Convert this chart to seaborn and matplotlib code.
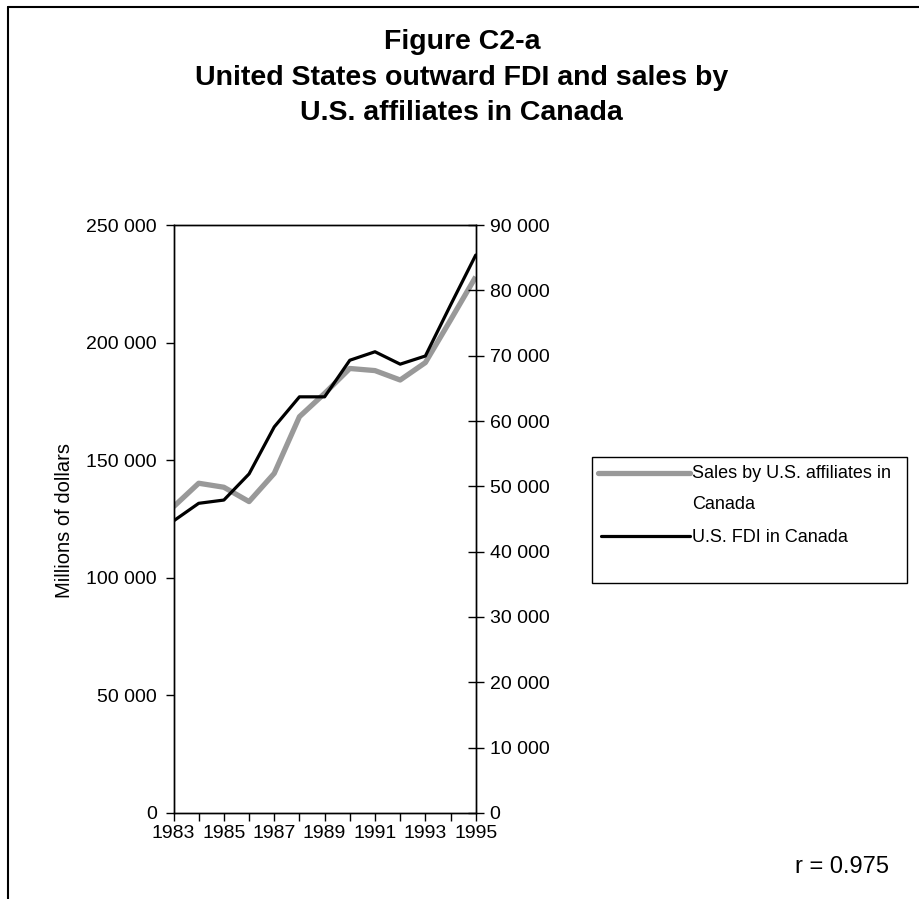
import matplotlib
matplotlib.use("Agg")
import matplotlib.pyplot as plt
import seaborn as sns
import pandas as pd
from matplotlib.ticker import FuncFormatter, MultipleLocator, FixedLocator
from matplotlib.lines import Line2D
from matplotlib.patches import Rectangle

# Datos
years = list(range(1983, 1996))
year_labels = years[::2]
sales = [130200, 140200, 138500, 132400, 144400, 168500, 178400,
         189000, 188100, 184100, 191500, 209600, 228000]
fdi = [44700, 47400, 47900, 51900, 59100, 63700, 63700,
       69300, 70600, 68700, 69950, 77750, 85400]

df = pd.DataFrame({"year": years, "sales": sales, "fdi": fdi})

sns.set_theme(style="white")
plt.rcParams["font.family"] = ["Liberation Sans", "DejaVu Sans"]
plt.rcParams["text.color"] = "black"
plt.rcParams["xtick.color"] = "black"
plt.rcParams["ytick.color"] = "black"
plt.rcParams["axes.labelcolor"] = "black"

fig = plt.figure(figsize=(9.2, 8.99), dpi=100)
ax = fig.add_axes([0.1886, 0.0957, 0.3285, 0.654])
ax2 = ax.twinx()

sns.lineplot(data=df, x="year", y="sales", ax=ax, color="#999999", lw=3.8,
             solid_capstyle="butt", solid_joinstyle="round")
sns.lineplot(data=df, x="year", y="fdi", ax=ax2, color="black", lw=2.3,
             solid_joinstyle="round")

thousands = FuncFormatter(lambda v, p: f"{int(v):,}".replace(",", " "))

ax.set_xlim(1983, 1995)
ax.set_ylim(0, 250000)
ax2.set_ylim(0, 90000)
ax.yaxis.set_major_locator(MultipleLocator(50000))
ax2.yaxis.set_major_locator(MultipleLocator(10000))
ax.yaxis.set_major_formatter(thousands)
ax2.yaxis.set_major_formatter(thousands)
ax.xaxis.set_major_locator(FixedLocator(year_labels))
ax.xaxis.set_minor_locator(MultipleLocator(1))
ax.xaxis.set_major_formatter(FuncFormatter(lambda v, p: f"{int(v)}"))

for a in (ax, ax2):
    for s in a.spines.values():
        s.set_color("black")
        s.set_linewidth(1.0)
    a.set_xlabel("")
    a.set_ylabel("")

ax.tick_params(axis="y", which="major", direction="out", length=6, width=1,
               labelsize=14, pad=6, left=True)
ax.tick_params(axis="x", which="both", direction="out", length=6, width=1,
               labelsize=14, pad=3, bottom=True)
ax.tick_params(axis="x", which="minor", labelbottom=False)
ax2.tick_params(axis="y", which="major", direction="inout", length=12, width=1,
                labelsize=14, pad=4, right=True)

fig.text(65 / 920, 1 - 520 / 899, "Millions of dollars", rotation=90,
         ha="center", va="center", fontsize=14.5)

# Título
for y, txt in zip([42, 78, 113],
                  ["Figure C2-a",
                   "United States outward FDI and sales by",
                   "U.S. affiliates in Canada"]):
    fig.text(0.502, 1 - y / 899, txt, ha="center", va="center", fontsize=20.5,
             fontweight="bold")

# Leyenda dibujada a mano
fig.add_artist(Rectangle((592 / 920, 1 - 583 / 899), 315 / 920, 126 / 899,
                         transform=fig.transFigure, fill=False, ec="black",
                         lw=1.0))
fig.add_artist(Line2D([598 / 920, 690 / 920], [1 - 473 / 899] * 2,
                      transform=fig.transFigure, color="#999999", lw=3.8,
                      solid_capstyle="round"))
fig.add_artist(Line2D([601 / 920, 690 / 920], [1 - 536 / 899] * 2,
                      transform=fig.transFigure, color="black", lw=2.3,
                      solid_capstyle="round"))
fig.text(692 / 920, 1 - 474 / 899, "Sales by U.S. affiliates in", fontsize=13,
         va="center", ha="left")
fig.text(692 / 920, 1 - 504 / 899, "Canada", fontsize=13, va="center",
         ha="left")
fig.text(692 / 920, 1 - 537 / 899, "U.S. FDI in Canada", fontsize=13,
         va="center", ha="left")

fig.text(842 / 920, 1 - 867 / 899, "r = 0.975", fontsize=17, ha="center",
         va="center")

# Marco exterior (solo izquierda y arriba visibles)
fig.add_artist(Line2D([8 / 920, 8 / 920], [0, 1 - 7 / 899],
                      transform=fig.transFigure, color="black", lw=1.5))
fig.add_artist(Line2D([8 / 920, 1], [1 - 7 / 899, 1 - 7 / 899],
                      transform=fig.transFigure, color="black", lw=1.5))

fig.savefig("out.png", dpi=100, facecolor="white")
plt.close(fig)
